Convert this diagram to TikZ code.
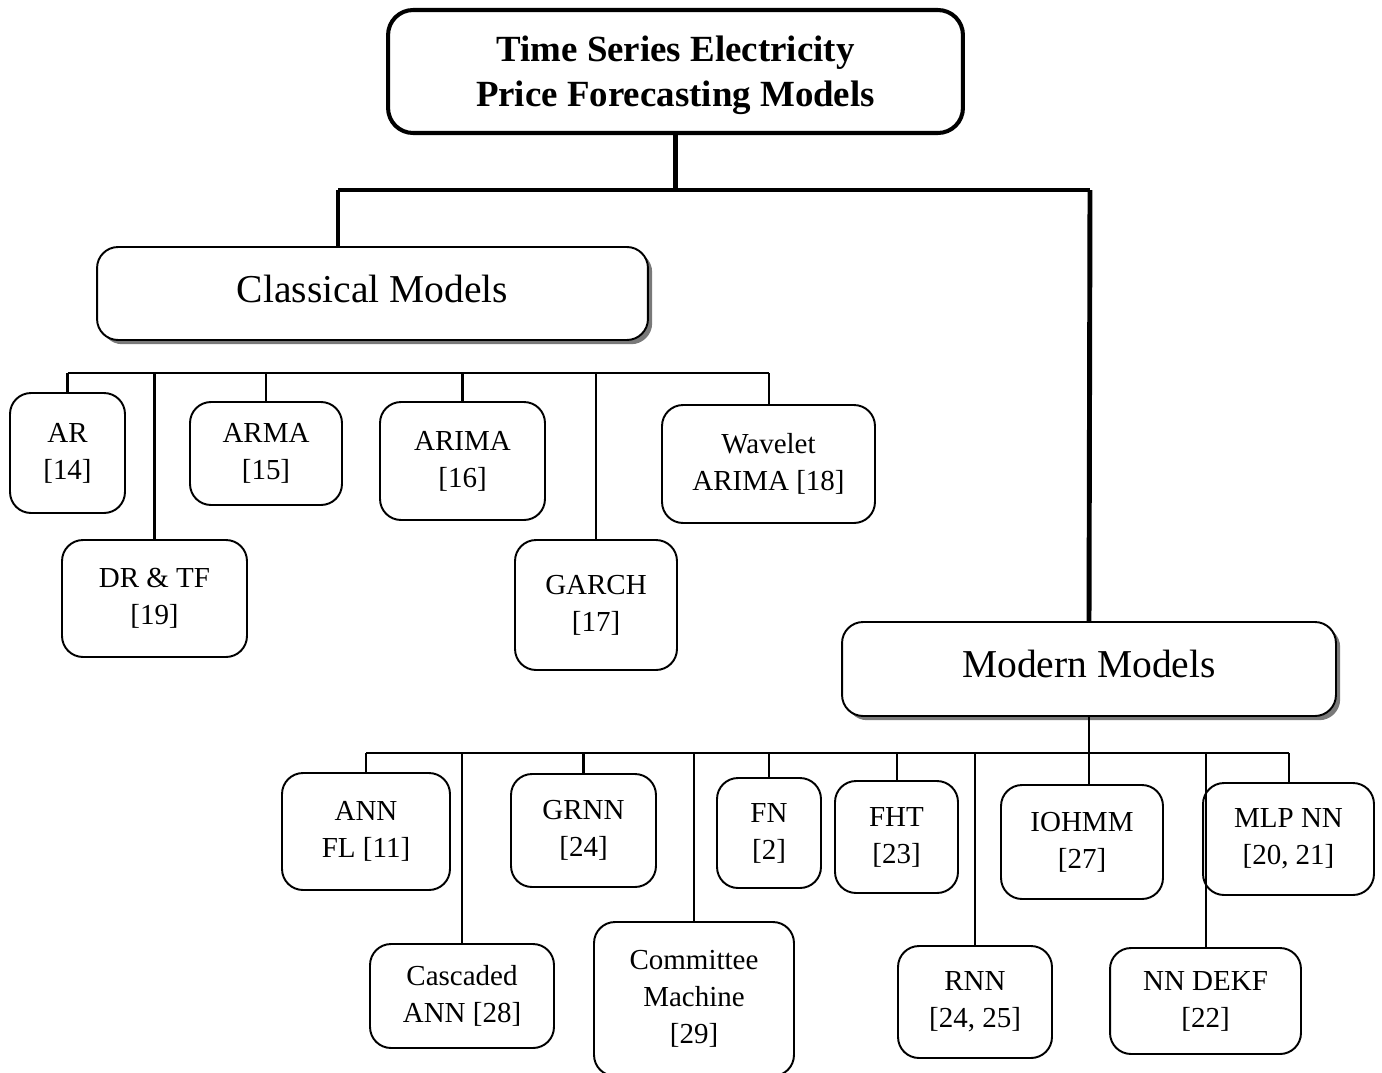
\documentclass[tikz,border=0pt]{standalone}
\usepackage{fontspec}
\setmainfont{Liberation Serif}
\usepackage{tikz}
\usetikzlibrary{shadows}

\begin{document}
\begin{tikzpicture}[x=0.02cm, y=-0.02cm,
    kid/.style={draw, line width=1.1pt, rounded corners=0.42cm, align=center,
      inner sep=0pt, font=\fontsize{16.5}{21}\selectfont},
    group/.style={draw, line width=1.1pt, rounded corners=0.42cm, fill=white,
      inner sep=0pt, text depth=5.7pt, font=\fontsize{22.5}{27}\selectfont,
      drop shadow={shadow xshift=2.4pt, shadow yshift=-2.4pt, fill=gray!95!black, opacity=1}},
    link/.style={line width=1.15pt},
    trunk/.style={line width=2.8pt}]

  \useasboundingbox (0,0) rectangle (1382,1072);

  \node[draw, line width=2.3pt, rounded corners=0.5cm, align=center, inner sep=0pt,
    minimum width=11.5cm, minimum height=2.46cm, text depth=-5.5pt,
    font=\bfseries\fontsize{21}{25.6}\selectfont] (top) at (675.5,71.5)
    {Time Series Electricity\\Price Forecasting Models};

  \node[group, minimum width=11.02cm, minimum height=1.86cm] (classical) at (372.5,293.5) {Classical Models};
  \node[group, minimum width=9.88cm, minimum height=1.88cm] (modern) at (1089,669) {Modern Models};

  \coordinate (bl) at (338,190);
  \coordinate (br) at (1090,190);

  \draw[trunk] (top.south) -- (top.south |- bl);
  \draw[trunk] (bl) -- (br);
  \draw[trunk] (bl) -- (bl |- classical.north);
  \draw[trunk] (br) -- (modern.north);

  % classical models
  \node[kid, minimum width=2.30cm, minimum height=2.40cm] (ar)   at (67.5,453)  {AR\\{}[14]};
  \node[kid, minimum width=3.70cm, minimum height=2.34cm] (drtf) at (154.5,598.5) {DR \& TF\\{}[19]};
  \node[kid, minimum width=3.04cm, minimum height=2.06cm] (arma) at (266,453.5) {ARMA\\{}[15]};
  \node[kid, minimum width=3.30cm, minimum height=2.36cm] (arima) at (462.5,461) {ARIMA\\{}[16]};
  \node[kid, minimum width=3.24cm, minimum height=2.60cm] (garch) at (596,605) {GARCH\\{}[17]};
  \node[kid, minimum width=4.26cm, minimum height=2.36cm] (wav)  at (768.5,464) {Wavelet\\ARIMA [18]};

  \coordinate (cbus) at (0,373);
  \draw[link] (ar.north |- cbus) -- (wav.north |- cbus);
  \foreach \n in {ar,drtf,arma,arima,garch,wav}
    \draw[link] (\n.north) -- (\n.north |- cbus);

  % modern models
  \node[kid, minimum width=3.36cm, minimum height=2.34cm] (annfl) at (366,831.5) {ANN\\FL [11]};
  \node[kid, minimum width=3.68cm, minimum height=2.08cm] (casc)  at (462,996)   {Cascaded\\ANN [28]};
  \node[kid, minimum width=2.90cm, minimum height=2.26cm] (grnn)  at (583.5,830.5) {GRNN\\{}[24]};
  \node[kid, minimum width=4.00cm, minimum height=3.08cm] (comm)  at (694,999)   {Committee\\Machine\\{}[29]};
  \node[kid, minimum width=2.08cm, minimum height=2.20cm] (fn)    at (769,833)   {FN\\{}[2]};
  \node[kid, minimum width=2.46cm, minimum height=2.24cm] (fht)   at (896.5,837) {FHT\\{}[23]};
  \node[kid, minimum width=3.08cm, minimum height=2.24cm] (rnn)   at (975,1002)  {RNN\\{}[24, 25]};
  \node[kid, minimum width=3.24cm, minimum height=2.28cm] (iohmm) at (1082,842)  {IOHMM\\{}[27]};
  \node[kid, minimum width=3.82cm, minimum height=2.12cm] (dekf)  at (1205.5,1001) {NN DEKF\\{}[22]};
  \node[kid, minimum width=3.42cm, minimum height=2.24cm] (mlp)   at (1288.5,839) {MLP NN\\{}[20, 21]};

  \coordinate (mbus) at (0,753);
  \draw[link] (annfl.north |- mbus) -- (mlp.north |- mbus);
  \draw[link] (modern.south) -- (modern.south |- iohmm.north);
  \foreach \n in {annfl,casc,grnn,comm,fn,fht,rnn,dekf,mlp}
    \draw[link] (\n.north) -- (\n.north |- mbus);

\end{tikzpicture}
\end{document}
